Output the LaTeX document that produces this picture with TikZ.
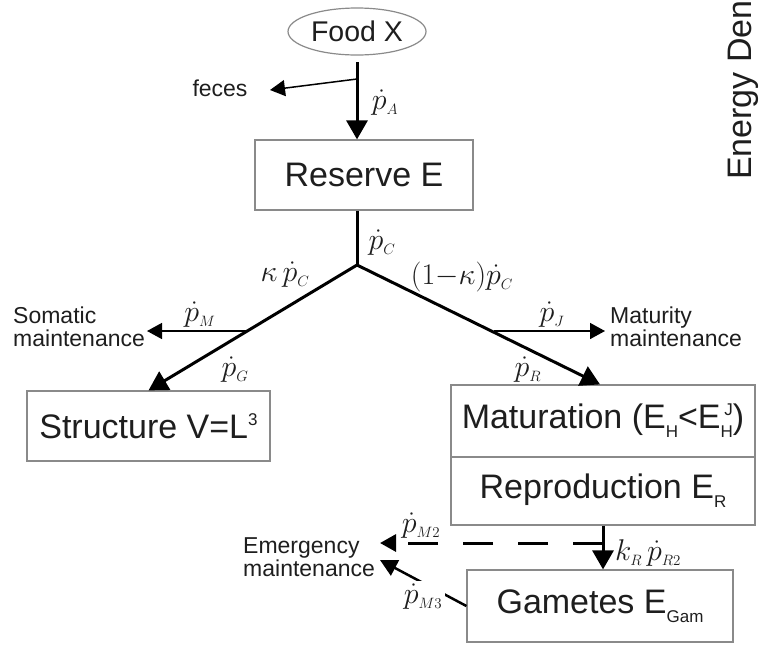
\RequirePackage{fix-cm}
\documentclass[tikz,border=0pt]{standalone}
\usepackage{amsmath}
\usepackage{fontspec}
\setmainfont{Liberation Sans}
\usepackage{tikz}
\usetikzlibrary{arrows.meta}
\usetikzlibrary{shapes.geometric}
\usepackage{xcolor}

\definecolor{ink}{HTML}{1E1E1E}
\definecolor{boxgray}{HTML}{8A8A8A}

\newcommand{\boxfont}{\fontsize{34}{40}\selectfont}
\newcommand{\foodfont}{\fontsize{28.5}{34}\selectfont}
\newcommand{\notefont}{\fontsize{23}{23}\selectfont}
\newcommand{\ratefont}{\fontsize{30}{34}\selectfont}
\newcommand{\pd}[1]{$\dot{p}_{\scriptscriptstyle #1}$}
\newcommand{\lowsub}[1]{\raisebox{-9pt}{\fontsize{17}{17}\selectfont #1}}
\newcommand{\highsup}[1]{\raisebox{13pt}{\fontsize{17}{17}\selectfont #1}}

\tikzset{
    box/.style={draw=boxgray, line width=1.2pt, text=ink, font=\boxfont, inner sep=0pt},
    flow/.style={line width=3pt, -{Triangle[length=19pt,width=21pt]}},
    side/.style={line width=1.5pt, -{Triangle[length=15pt,width=16pt]}},
    rate/.style={font=\ratefont, text=ink, inner sep=1pt},
    note/.style={font=\notefont, text=ink, align=left, inner sep=0pt}
}

\begin{document}
\begin{tikzpicture}[x=1pt, y=-1pt]
    \useasboundingbox (0,0) rectangle (762,657);

    % Compartments
    \node[ellipse, draw=boxgray, line width=1.2pt, minimum width=138pt, minimum height=47pt,
          font=\foodfont, text=ink, inner sep=0pt] (food) at (357,31.5) {Food X};
    \node[box, minimum width=218pt, minimum height=70pt] (reserve) at (364,175) {Reserve E};
    \node[box, minimum width=243pt, minimum height=70pt] (structure) at (148.5,426) {Structure V=L\highsup{3}};
    \node[box, minimum width=304pt, minimum height=72pt] (maturation) at (603,421)
        {Maturation (E\lowsub{H}<E\lowsub{H}\llap{\highsup{J}})};
    \node[box, minimum width=304pt, minimum height=68pt] (reproduction) at (603,491) {Reproduction E\lowsub{R}};
    \node[box, minimum width=266pt, minimum height=72pt] (gametes) at (600,606) {Gametes E\lowsub{Gam}};
    \node[rotate=90, anchor=base west, font=\boxfont, text=ink, inner sep=0pt] (energy) at (751,180) {Energy Den};

    % Branch points
    \coordinate (fork) at (357,265);
    \coordinate (fsplit) at (357,79);
    \coordinate (msplit) at (248,331);
    \coordinate (jsplit) at (494,331);
    \coordinate (rsplit) at (603,543);
    \coordinate (ftip) at (270,90);
    \coordinate (mtip) at (147,331);
    \coordinate (jtip) at (605,331);
    \coordinate (e2tip) at (380,543);
    \coordinate (e3tip) at (380,560);

    % Main flows
    \draw[flow] (food.south |- 0,62) -- (food.south |- reserve.north);
    \draw[line width=3pt] (fork |- reserve.south) -- (fork);
    \draw[flow] (fork) -- (structure.north);
    \draw[flow] (fork) -- ([xshift=-3pt]maturation.north);
    \draw[flow] (rsplit |- reproduction.south) -- (rsplit |- gametes.north);

    % Side flows
    \draw[side] (fsplit) -- (ftip);
    \draw[side] (msplit) -- (mtip);
    \draw[side] (jsplit) -- (jtip);
    \draw[line width=3pt, dash pattern=on 30pt off 25pt, -{Triangle[length=16pt,width=17pt]}] (rsplit) -- (e2tip);
    \draw[line width=2.5pt, -{Triangle[length=17pt,width=17pt]}] (gametes.west) -- (e3tip);

    % Sinks
    \node[note] (feces) at (220,88) {feces};
    \node[note, anchor=west] (somatic) at (13,327) {Somatic\\maintenance};
    \node[note, anchor=west] (maturity) at (610,327) {Maturity\\maintenance};
    \node[note, anchor=west] (emergency) at (243,557) {Emergency\\maintenance};

    % Fluxes
    \node[rate] (pA) at (385,103) {\pd{A}};
    \node[rate] (pC) at (382,243) {\pd{C}};
    \node[rate] (kpC) at (285,275) {$\kappa\,\dot{p}_{\scriptscriptstyle C}$};
    \node[rate] (rpC) at (462,277) {$(1{-}\kappa)\dot{p}_{\scriptscriptstyle C}$};
    \node[rate] (pM) at (200,315) {\pd{M}};
    \node[rate] (pG) at (235,370) {\pd{G}};
    \node[rate] (pJ) at (552,315) {\pd{J}};
    \node[rate] (pR) at (528,370) {\pd{R}};
    \node[rate] (pM2) at (421,526) {\pd{M2}};
    \node[rate] (kpR) at (648,553) {$k_{\scriptscriptstyle R}\,\dot{p}_{\scriptscriptstyle R2}$};
    \node[rate, fill=white, inner sep=3pt] (pM3) at (423,597) {\pd{M3}};
\end{tikzpicture}
\end{document}
